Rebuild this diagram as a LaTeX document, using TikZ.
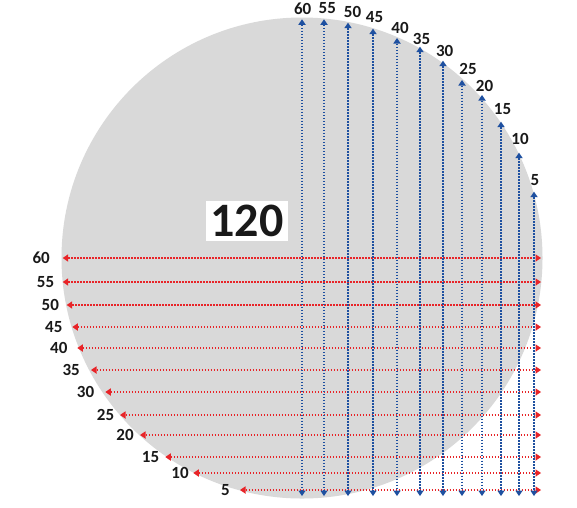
\documentclass[tikz,border=0pt]{standalone}
\usepackage{fontspec}
\setmainfont{Carlito}
\usetikzlibrary{arrows.meta}
\definecolor{diskgray}{HTML}{D9D9D9}
\definecolor{lineblue}{RGB}{30,80,160}
\definecolor{linered}{RGB}{232,36,40}
\tikzset{
  vline/.style={draw=lineblue, line width=2pt, dash pattern=on 1.5pt off 1.5pt,
    {Triangle[length=5.5pt,width=7.5pt,fill=lineblue,line width=0pt]}-{Triangle[length=5.5pt,width=7.5pt,fill=lineblue,line width=0pt]}},
  hline/.style={draw=linered, line width=2pt, dash pattern=on 1.5pt off 1.5pt,
    {Triangle[length=5.5pt,width=7.5pt,fill=linered,line width=0pt]}-{Triangle[length=5.5pt,width=7.5pt,fill=linered,line width=0pt]}},
  lbl/.style={font=\fontsize{17}{17}\selectfont\bfseries, inner sep=0pt, text=black!90},
  big/.style={font=\fontsize{48}{48}\selectfont\bfseries, fill=white, text=black!90,
    minimum width=82pt, minimum height=40pt, inner sep=0pt}
}
\begin{document}
\begin{tikzpicture}[x=1pt,y=-1pt]
\useasboundingbox[fill=white] (0,0) rectangle (577,507);
\fill[diskgray] (302,258) circle (240.5);
\node[big] (diam) at (247,221) {120};
% horizontal red lines
\foreach \y/\xl/\lx/\t [count=\i] in {
  258/62.7/41.2/60, 282/62.7/45.5/55, 305/66.7/50.3/50, 327/72.3/53.8/45,
  348/77.3/58.8/40, 370/91/71.2/35, 392/105.3/85.5/30, 415/120/105.5/25,
  435/140/125/20, 457/165.3/150.5/15, 473/193.3/180/10, 490/240/225.5/5}{
  \coordinate (hl\i) at (\xl,\y);
  \coordinate (hr\i) at (541,\y);
  \draw[hline] (hl\i) -- (hr\i);
  \node[lbl] (hlab\i) at (\lx,\y) {\t};
}
% vertical blue lines
\foreach \x/\yt/\lx/\ly/\t [count=\i] in {
  302/19.3/302.7/8.3/60, 324/19.3/327.3/8.3/55, 348/22.7/352.5/12.3/50,
  373/28.7/374.5/17.3/45, 397/38/400/27.7/40, 420/46.7/421.5/39/35,
  443/60.7/444.7/50.7/30, 462/80/468/69/25, 482/95/484.5/85.7/20,
  501/121.7/502.5/109/15, 519/152.7/520/139/10, 534/191.7/535/180/5}{
  \coordinate (vt\i) at (\x,\yt);
  \coordinate (vb\i) at (\x,496);
  \draw[vline] (vt\i) -- (vb\i);
  \node[lbl] (vlab\i) at (\lx,\ly) {\t};
}
\end{tikzpicture}
\end{document}
